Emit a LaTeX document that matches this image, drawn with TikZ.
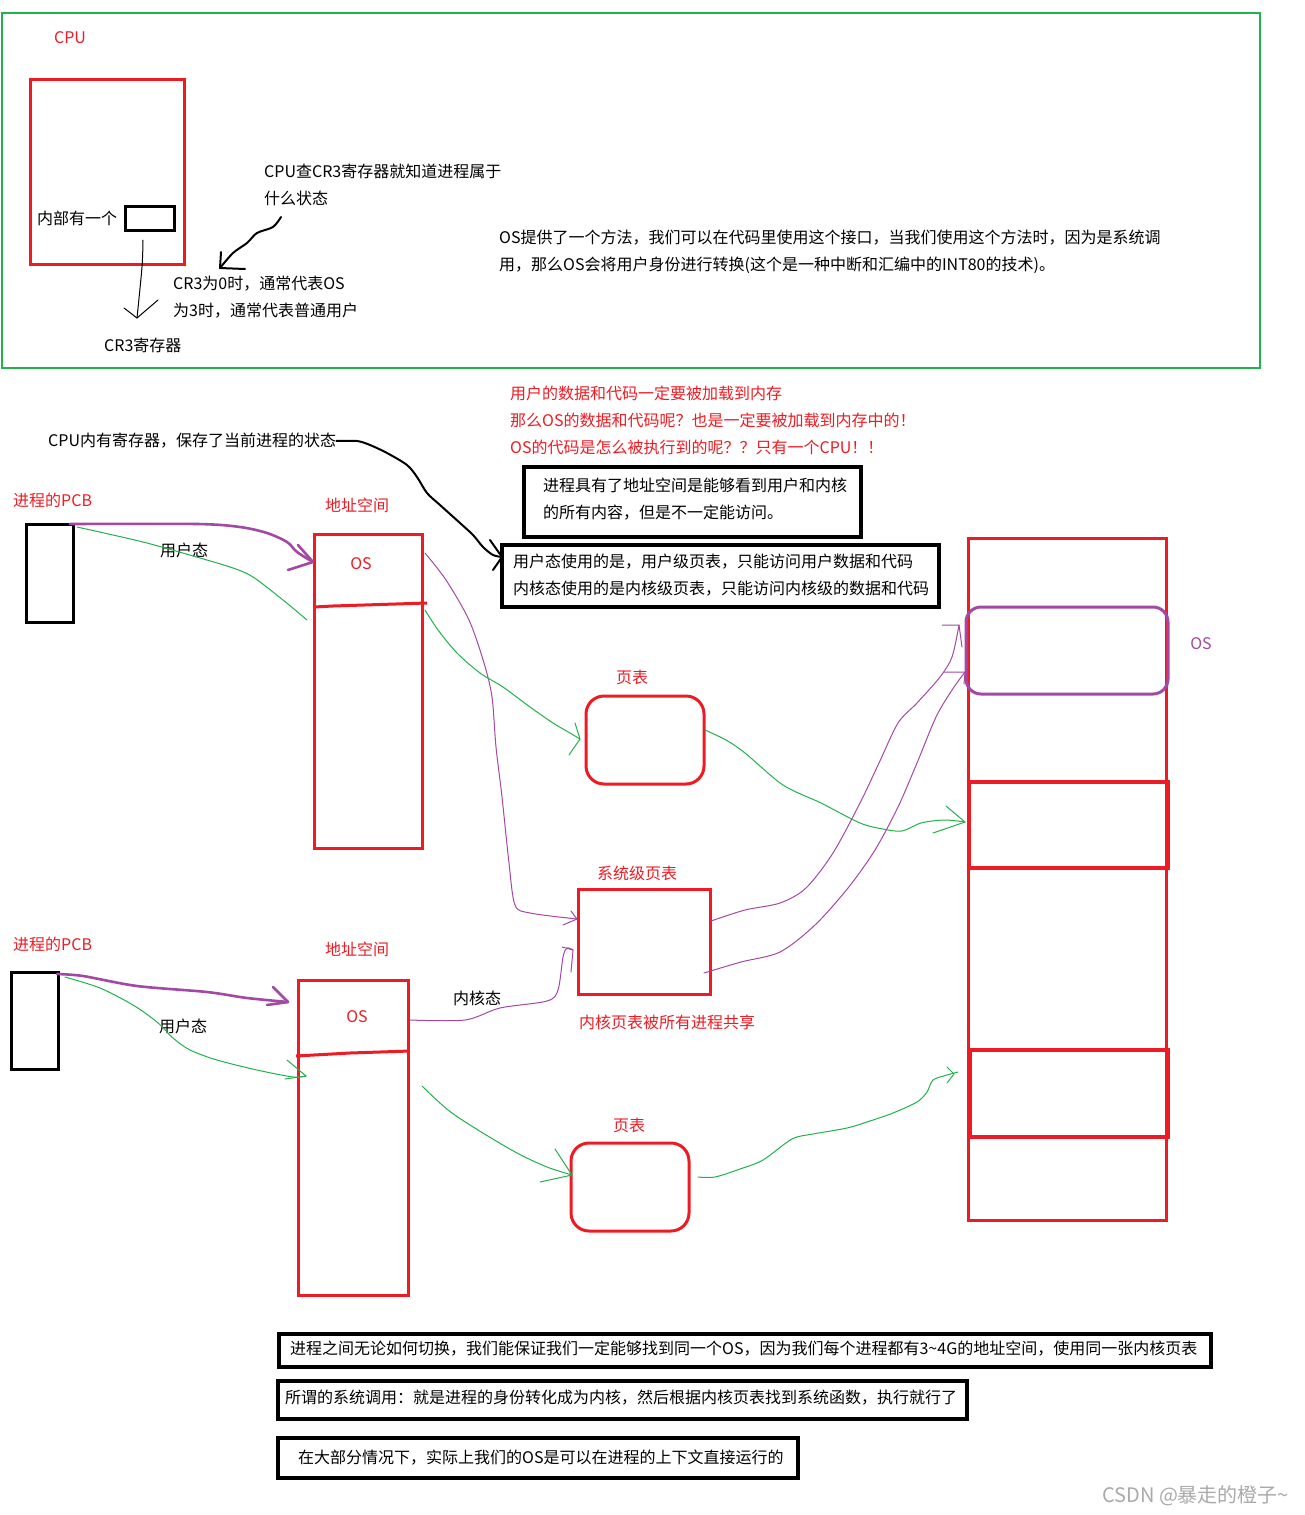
\documentclass[tikz,border=0pt]{standalone}
\usepackage{fontspec}
\setmainfont{Noto Sans CJK SC}
\definecolor{pred}{RGB}{237,28,36}
\definecolor{pgreen}{RGB}{34,177,76}
\definecolor{ppurple}{RGB}{163,73,164}
\definecolor{pgray}{RGB}{170,170,170}
\begin{document}
\begin{tikzpicture}[x=1pt,y=-1pt,
  txt/.style={font=\fontsize{16.0}{27}\selectfont, inner sep=0pt, align=left},
  lbl/.style={txt, anchor=west},
  ctr/.style={txt, anchor=center},
  redt/.style={text=pred},
  box/.style={inner sep=0pt, outer sep=0pt, anchor=north west},
  redbox/.style={box, draw=pred, line width=3pt},
  blkbox/.style={box, draw=black, line width=3.5pt},
  hand/.style={line join=round, line cap=round},
  gline/.style={hand, draw=pgreen, line width=1pt},
  pline/.style={hand, draw=ppurple, line width=1pt},
  pthick/.style={hand, draw=ppurple, line width=2.6pt},
  bline/.style={hand, draw=black, line width=2pt},
]
\useasboundingbox (0,0) rectangle (1304,1515);
\fill[white] (0,0) rectangle (1304,1515);

% ---------- top frame ----------
\node[box, draw=pgreen, line width=1.2pt, minimum width=1258pt, minimum height=355pt] (frame) at (2,13) {};
\node[ctr, redt] (cpu) at (70,38) {CPU};
\node[redbox, minimum width=154pt, minimum height=185pt] (cpubox) at (30,79) {};
\node[blkbox, line width=3pt, minimum width=49pt, minimum height=24pt] (cr3box) at (125,206) {};
\node[lbl] (inner) at (37,218) {内部有一个};
\node[lbl] (cr3reg) at (104,345) {CR3寄存器};
\node[lbl] (cpucheck) at (264,184.5) {CPU查CR3寄存器就知道进程属于\\什么状态};
\node[lbl] (cr3val) at (173,297.5) {CR3为0时，通常代表OS\\为3时，通常代表普通用户};
\node[lbl] (ossys) at (499,251.5) {OS提供了一个方法，我们可以在代码里使用这个接口，当我们使用这个方法时，因为是系统调\\用，那么OS会将用户身份进行转换(这个是一种中断和汇编中的INT80的技术)。};

% thin arrow register -> CR3寄存器
\coordinate (t1) at (137,318);
\draw[hand, line width=1pt] plot[smooth] coordinates {(143,240) (142,267) (t1)};
\draw[hand, line width=1pt] (124,308) -- (t1) -- (158,300);
% thick arrow text -> CR3 value
\coordinate (t2) at (220,268);
\draw[bline] plot[smooth, tension=0.5] coordinates {(281,217) (273,227) (257,233) (247,243) (233,253) (t2)};
\draw[bline] (221,252) -- (t2) -- (245,269);

% ---------- middle notes ----------
\node[lbl, redt] (redq) at (510,420) {用户的数据和代码一定要被加载到内存\\那么OS的数据和代码呢？也是一定要被加载到内存中的！\\OS的代码是怎么被执行到的呢？？只有一个CPU！！};
\node[blkbox, minimum width=337pt, minimum height=70pt] (info1) at (524,467) {};
\node[lbl] (info1t) at (543,499.5) {进程具有了地址空间是能够看到用户和内核\\的所有内容，但是不一定能访问。};
\node[blkbox, minimum width=437pt, minimum height=62pt] (info2) at (502,545) {};
\node[lbl] (info2t) at (513,575.5) {用户态使用的是，用户级页表，只能访问用户数据和代码\\内核态使用的是内核级页表，只能访问内核级的数据和代码};
\node[lbl] (regstate) at (48,441) {CPU内有寄存器，保存了当前进程的状态};
\coordinate (t3) at (502,557);
\draw[bline] plot[smooth, tension=0.5] coordinates {(regstate.east) (357,441) (370,445) (387,453) (407,465) (417,477) (427,493) (440,505) (460,523) (473,535) (483,547) (493,555) (t3)};
\draw[bline] (490,540) -- (t3) -- (493,570);

% ---------- process 1 ----------
\node[lbl, redt] (pcbl1) at (13,500) {进程的PCB};
\node[blkbox, line width=3pt, minimum width=47pt, minimum height=98pt] (pcb1) at (26,524) {};
\node[ctr, redt] (asl1) at (357,505) {地址空间};
\node[redbox, minimum width=108pt, minimum height=314pt] (as1) at (314,534) {};
\draw[pred, line width=3pt] (as1.west |- 0,607) -- (333,606) -- (427,603);
\node[ctr, redt] (os1) at (361,564) {OS};
\node[ctr] (um1) at (184,550) {用户态};
\coordinate (t4) at (313,562);
\draw[pthick] plot[smooth, tension=0.5] coordinates {(70,524) (197,524) (240,527) (267,533) (287,542) (297,552) (t4)};
\draw[pthick] (298,545) -- (t4) -- (288,570);
\draw[gline] plot[smooth, tension=0.5] coordinates {(77,527) (143,542) (200,558) (233,568) (253,577) (283,600) (307,620)};

\node[ctr, redt] (ptl1) at (632,677) {页表};
\node[redbox, rounded corners=18pt, minimum width=118pt, minimum height=88pt] (pt1) at (586,696) {};
\node[ctr, redt] (sptl) at (637,873) {系统级页表};
\node[redbox, minimum width=132pt, minimum height=105pt] (spt) at (578,889) {};
\node[lbl, redt] (share) at (579,1022) {内核页表被所有进程共享};

% AS1 OS -> system page table (purple)
\coordinate (t5) at (577,919);
\draw[pline] plot[smooth, tension=0.5] coordinates {(425,553) (446,580) (469,620) (484,663) (492,697) (496,747) (502,797) (509,863) (515,905) (530,913) (t5)};
\draw[pline] (571,911) -- (t5) -- (563,925);
% AS1 -> page table 1 (green)
\coordinate (t6) at (580,739);
\draw[gline] plot[smooth, tension=0.5] coordinates {(425,610) (438,630) (457,653) (480,673) (503,687) (530,707) (553,723) (570,733) (t6)};
\draw[gline] (575,723) -- (t6) -- (569,755);
% page table 1 -> memory band 1 (green)
\coordinate (t7) at (965,822);
\draw[gline] plot[smooth, tension=0.5] coordinates {(705,730) (726,740) (745,753) (783,785) (821,803) (860,823) (883,829) (902,831) (921,823) (944,820) (t7)};
\draw[gline] (946,806) -- (t7) -- (933,833);

% ---------- memory ----------
\node[redbox, minimum width=198pt, minimum height=682pt] (mem) at (968,538) {};
\node[redbox, line width=3.5pt, minimum width=199pt, minimum height=86pt] (band1) at (969,782) {};
\node[redbox, line width=3.5pt, minimum width=198pt, minimum height=87pt] (band2) at (970,1050) {};
\node[box, draw=ppurple, line width=3pt, rounded corners=15pt, minimum width=202pt, minimum height=87pt] (osreg) at (966,607) {};
\node[ctr, text=ppurple] (osl) at (1201,644) {OS};

% system page table -> OS region (purple)
\coordinate (t8) at (959,625);
\draw[pline] plot[smooth, tension=0.5] coordinates {(711,921) (745,910) (780,903) (806,888) (833,853) (860,803) (879,763) (898,723) (917,703) (940,677) (952,657) (t8)};
\draw[pline] (942,625) -- (t8) -- (962,647);
\coordinate (t9) at (965,672);
\draw[pline] plot[smooth, tension=0.5] coordinates {(704,973) (741,962) (780,952) (815,925) (848,888) (875,850) (898,807) (917,763) (936,717) (952,690) (t9)};
\draw[pline] (944,672) -- (t9) -- (964,684);

% ---------- process 2 ----------
\node[lbl, redt] (pcbl2) at (13,944) {进程的PCB};
\node[blkbox, line width=3pt, minimum width=47pt, minimum height=97pt] (pcb2) at (11,972) {};
\node[ctr, redt] (asl2) at (357,949) {地址空间};
\node[redbox, minimum width=110pt, minimum height=315pt] (as2) at (298,980) {};
\draw[pred, line width=3pt] (296,1056) -- (350,1053) -- (410,1051);
\node[ctr, redt] (os2) at (357,1017) {OS};
\node[ctr] (um2) at (183,1026) {用户态};
\node[ctr] (km) at (477,998) {内核态};
\coordinate (t10) at (288,1002);
\draw[pthick] plot[smooth, tension=0.5] coordinates {(57,974) (83,976) (137,986) (207,992) (247,998) (t10)};
\draw[pthick] (273,987) -- (t10) -- (267,1005);
\coordinate (t11) at (306,1076);
\draw[gline] plot[smooth, tension=0.5] coordinates {(65,977) (100,988) (133,1005) (157,1022) (173,1038) (190,1050) (217,1060) (257,1070) (293,1077) (t11)};
\draw[gline] (287,1060) -- (t11) -- (285,1079);
% AS2 OS -> system page table (kernel)
\coordinate (t12) at (573,950);
\draw[pline] plot[smooth, tension=0.5] coordinates {(410,1020) (465,1020) (500,1008) (547,1001) (558,990) (563,957) (567,948) (t12)};
\draw[pline] (562,947) -- (t12) -- (571,972);
% AS2 -> page table 2
\node[ctr, redt] (ptl2) at (629,1125) {页表};
\node[redbox, rounded corners=18pt, minimum width=118pt, minimum height=88pt] (pt2) at (571,1143) {};
\coordinate (t13) at (572,1175);
\draw[gline] plot[smooth, tension=0.5] coordinates {(422,1086) (448,1110) (478,1130) (517,1153) (547,1167) (t13)};
\draw[gline] (555,1149) -- (t13) -- (540,1182);
% page table 2 -> band 2
\coordinate (t14) at (958,1072);
\draw[gline] plot[smooth, tension=0.5] coordinates {(698,1177) (715,1177) (740,1169) (763,1160) (792,1139) (813,1134) (847,1128) (870,1121) (893,1113) (917,1102) (927,1092) (933,1080) (947,1075) (t14)};
\draw[gline] (947,1067) -- (954,1074) -- (947,1083);

% ---------- bottom notes ----------
\node[blkbox, minimum width=932pt, minimum height=33pt] (b1) at (279,1334) {};
\node[lbl] (b1t) at (290,1349) {进程之间无论如何切换，我们能保证我们一定能够找到同一个OS，因为我们每个进程都有3\textasciitilde4G的地址空间，使用同一张内核页表};
\node[blkbox, minimum width=689pt, minimum height=38pt] (b2) at (278,1381) {};
\node[lbl] (b2t) at (285,1398) {所谓的系统调用：就是进程的身份转化成为内核，然后根据内核页表找到系统函数，执行就行了};
\node[blkbox, minimum width=520pt, minimum height=40pt] (b3) at (278,1438) {};
\node[lbl] (b3t) at (298,1458) {在大部分情况下，实际上我们的OS是可以在进程的上下文直接运行的};
\node[lbl, text=pgray, font=\fontsize{20}{22}\selectfont] (wm) at (1102,1496) {CSDN @暴走的橙子\textasciitilde};
\end{tikzpicture}
\end{document}
